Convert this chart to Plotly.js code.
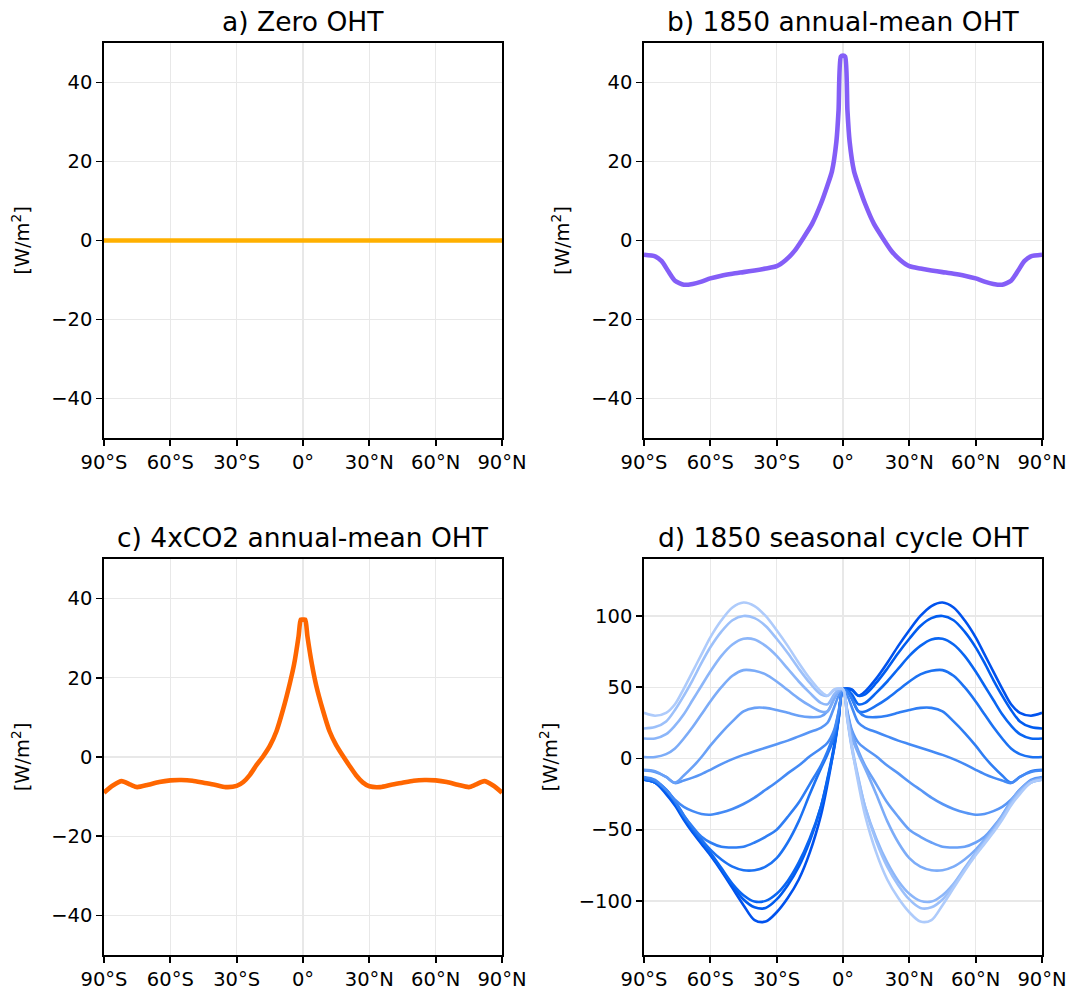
<!DOCTYPE html>
<html>
<head>
<meta charset="utf-8">
<script src="https://cdn.plot.ly/plotly-3.0.1.min.js"></script>
<style>html,body{margin:0;padding:0;background:#fff;}#chart{width:1071px;height:992px;}</style>
</head>
<body>
<div id="chart"></div>
<script>
// ---------- data ----------
const tickVals = [-90, -60, -30, 0, 30, 60, 90];
const tickText = ['90°S', '60°S', '30°S', '0°', '30°N', '60°N', '90°N'];

// a) Zero OHT
const latA = [-90, 90];
const ohtZero = [0, 0];

// b) 1850 annual-mean OHT
const latB = [-90,-85,-82,-79,-76,-72,-68,-64,-60,-55,-50,-45,-40,-35,-30,-26,-22,-18,-14,-10,-7,-5,-3,-2,-1,0,1,2,3,5,7,10,14,18,22,26,30,35,40,45,50,55,60,64,68,72,76,79,82,85,90];
const oht1850 = [-3.6,-4.0,-5.2,-7.8,-10.2,-11.2,-11.0,-10.4,-9.6,-8.9,-8.4,-8.0,-7.6,-7.1,-6.5,-5.0,-2.7,0.6,4.2,9.3,14.0,17.5,25,33,46.5,46.8,46.5,33,25,17.5,14.0,9.3,4.2,0.6,-2.7,-5.0,-6.5,-7.1,-7.6,-8.0,-8.4,-8.9,-9.6,-10.4,-11.0,-11.2,-10.2,-7.8,-5.2,-4.0,-3.6];

// c) 4xCO2 annual-mean OHT
const latC = [-90,-86,-82,-78,-75,-70,-65,-60,-55,-50,-45,-40,-35,-30,-27,-24,-21,-18,-15,-12,-9,-6,-4,-2,-1,0,1,2,4,6,9,12,15,18,21,24,27,30,35,40,45,50,55,60,65,70,75,78,82,86,90];
const oht4xco2 = [-9.0,-7.2,-6.1,-7.0,-7.6,-7.0,-6.3,-5.9,-5.8,-6.0,-6.5,-7.0,-7.6,-7.3,-6.3,-4.5,-2.0,0.2,2.8,6.5,12.0,18.5,23.5,30.5,34.7,34.7,34.7,30.5,23.5,18.0,11.8,6.5,3.0,0.3,-2.2,-4.6,-6.4,-7.4,-7.6,-7.0,-6.5,-6.0,-5.8,-5.9,-6.3,-7.0,-7.6,-7.0,-6.1,-7.2,-9.0];

// d) 1850 seasonal cycle OHT (12 monthly curves)
const latD = [-90,-85,-80,-76,-72,-68,-64,-60,-55,-50,-45,-40,-35,-30,-25,-20,-15,-10,-7,-4,-2,0,2,4,7,10,15,20,25,30,35,40,45,50,55,60,64,68,72,76,80,85,90];
const month01 = [-15,-17,-25,-33,-43,-52,-60,-68,-79,-91,-103,-113.5,-114.5,-108,-98,-85,-66,-40,-18,8,28,48.5,49,48.5,44,47,56,67,79,90,100,107,109.5,106,97,85,73,61,49,38,32,30,32];
const month02 = [-15,-17,-24,-32,-42,-51,-59,-67,-78,-89,-99,-104.5,-105,-99,-89,-76,-58,-34,-14,9,28,48.5,49,48,44,45,53,63,74,84,93,98.5,100,97,89,78,67,55,44,34,26,22,21];
const month03 = [-15,-17,-23,-31,-41,-50,-58,-66,-77,-88,-96,-100.5,-100,-95,-86,-73,-56,-34,-15,7,27,48.5,48,45,38,39,46,54,63,72,79,83.5,84,80,72,61,51,41,31,23,17,14,14];
const month04 = [-14,-16,-22,-30,-40,-49,-57,-64,-71,-76,-78.5,-78.5,-76,-70,-59,-44,-25,-7,3,15,30,48.5,47,42,33,33,37,42,48,54,59,61.5,62,58,50,40,31,22,14,7,3,1,1];
const month05 = [-14,-16,-22,-30,-40,-48,-55,-59,-62,-62.5,-62,-59,-55,-50,-41,-31,-18,-5,5,18,32,48.5,47,42,33,29.5,29,30,32,34,35.5,35.5,33,26,18,9,1,-6,-12,-17,-13,-9,-8];
const month06 = [-13,-15,-22,-29,-34,-37,-39,-39.5,-38,-35.5,-32,-27.5,-22,-16.5,-10.5,-5,1.5,7,11,20,33,48.5,44,36,25,21.5,18.5,15.5,12.5,10,7.5,5,2.5,-0.5,-4,-8,-11,-13.5,-15.5,-17.3,-13,-9.5,-8.5];
const month07 = [-8.5,-9.5,-13,-17.3,-15.5,-13.5,-11,-8,-4,-0.5,2.5,5,7.5,10,12.5,15.5,18.5,21.5,25,36,44,48.5,33,20,11,7,1.5,-5,-10.5,-16.5,-22,-27.5,-32,-35.5,-38,-39.5,-39,-37,-34,-29,-22,-15,-13];
const month08 = [-8,-9,-13,-17,-12,-6,1,9,18,26,33,35.5,35.5,34,32,30,29,29.5,33,42,47,48.5,32,18,5,-5,-18,-31,-41,-50,-55,-59,-62,-62.5,-62,-59,-55,-48,-40,-30,-22,-16,-14];
const month09 = [1,1,3,7,14,22,31,40,50,58,62,61.5,59,54,48,42,37,33,33,42,47,48.5,30,15,3,-7,-25,-44,-59,-70,-76,-78.5,-78.5,-76,-71,-64,-57,-49,-40,-30,-22,-16,-14];
const month10 = [14,14,17,23,31,41,51,61,72,80,84,83.5,79,72,63,54,46,39,38,45,48,48.5,27,7,-15,-34,-56,-73,-86,-95,-100,-100.5,-96,-88,-77,-66,-58,-50,-41,-31,-23,-17,-15];
const month11 = [21,22,26,34,44,55,67,78,89,97,100,98.5,93,84,74,63,53,45,44,48,49,48.5,28,9,-14,-34,-58,-76,-89,-99,-105,-104.5,-99,-89,-78,-67,-59,-51,-42,-32,-24,-17,-15];
const month12 = [32,30,32,38,49,61,73,85,97,106,109.5,107,100,90,79,67,56,47,44,48.5,49,48.5,28,8,-18,-40,-66,-85,-98,-108,-114.5,-113.5,-103,-91,-79,-68,-60,-52,-43,-33,-25,-17,-15];

// ---------- styling ----------
const monthSeries = [month01, month02, month03, month04, month05, month06, month07, month08, month09, month10, month11, month12];
const monthColors = ['#0052ee','#005cf0','#0a66f2','#1c72f3','#2f7ef4','#448af5','#5896f6','#6aa1f7','#7cacf8','#8cb6f9','#9cc0fa','#aecbfb'];

const FONT = 'DejaVu Sans, sans-serif';
const W = 1071, H = 992;
const px = (a, b) => [a / W, b / W];
const py = (top, bottom) => [1 - bottom / H, 1 - top / H];

const colL = px(104, 502), colR = px(644, 1042);
const rowT = py(43, 438), rowB = py(559, 955);

function xax(domain, anchor) {
  return {
    domain: domain, anchor: anchor, range: [-90, 90],
    tickmode: 'array', tickvals: tickVals, ticktext: tickText,
    showgrid: true, gridcolor: '#e8e8e8', gridwidth: 1.3, zeroline: false,
    showline: true, linecolor: '#000', linewidth: 1.8, mirror: true,
    ticks: 'outside', ticklen: 6, tickwidth: 1.8, tickcolor: '#000',
    tickfont: {family: FONT, size: 19.5, color: '#000'}
  };
}
function yax(domain, anchor, range, vals) {
  return {
    domain: domain, anchor: anchor, range: range,
    tickmode: 'array', tickvals: vals,
    showgrid: true, gridcolor: '#e8e8e8', gridwidth: 1.3, zeroline: false,
    showline: true, linecolor: '#000', linewidth: 1.8, mirror: true,
    ticks: 'outside', ticklen: 6, tickwidth: 1.8, tickcolor: '#000',
    tickfont: {family: FONT, size: 19.5, color: '#000'},
    title: {text: '[W/m<sup>2</sup>]', standoff: 16, font: {family: FONT, size: 19.5, color: '#000'}}
  };
}

const traces = [
  {x: latA, y: ohtZero, xaxis: 'x', yaxis: 'y', mode: 'lines', line: {color: '#ffb000', width: 4.6}, showlegend: false},
  {x: latB, y: oht1850, xaxis: 'x2', yaxis: 'y2', mode: 'lines', line: {color: '#845ef7', width: 4.6, shape: 'spline', smoothing: 0.6}, showlegend: false},
  {x: latC, y: oht4xco2, xaxis: 'x3', yaxis: 'y3', mode: 'lines', line: {color: '#ff6600', width: 4.6, shape: 'spline', smoothing: 0.6}, showlegend: false}
];
monthSeries.forEach((s, i) => {
  traces.push({x: latD, y: s, xaxis: 'x4', yaxis: 'y4', mode: 'lines',
    line: {color: monthColors[i], width: 2.6, shape: 'spline', smoothing: 0.9}, showlegend: false});
});

function title(text, dom, ydom) {
  return {text: text, xref: 'paper', yref: 'paper', x: (dom[0] + dom[1]) / 2, y: ydom[1],
    xanchor: 'center', yanchor: 'bottom', yshift: 4, showarrow: false,
    font: {family: FONT, size: 26.5, color: '#000'}};
}

const layout = {
  width: W, height: H,
  margin: {l: 0, r: 0, t: 0, b: 0},
  paper_bgcolor: '#fff', plot_bgcolor: '#fff',
  showlegend: false,
  font: {family: FONT, color: '#000'},
  xaxis: xax(colL, 'y'),
  yaxis: yax(rowT, 'x', [-50, 50], [-40, -20, 0, 20, 40]),
  xaxis2: xax(colR, 'y2'),
  yaxis2: yax(rowT, 'x2', [-50, 50], [-40, -20, 0, 20, 40]),
  xaxis3: xax(colL, 'y3'),
  yaxis3: yax(rowB, 'x3', [-50, 50], [-40, -20, 0, 20, 40]),
  xaxis4: xax(colR, 'y4'),
  yaxis4: yax(rowB, 'x4', [-138, 140], [-100, -50, 0, 50, 100]),
  annotations: [
    title('a) Zero OHT', colL, rowT),
    title('b) 1850 annual-mean OHT', colR, rowT),
    title('c) 4xCO2 annual-mean OHT', colL, rowB),
    title('d) 1850 seasonal cycle OHT', colR, rowB)
  ]
};

Plotly.newPlot('chart', traces, layout, {staticPlot: true, displayModeBar: false});
</script>
</body>
</html>
